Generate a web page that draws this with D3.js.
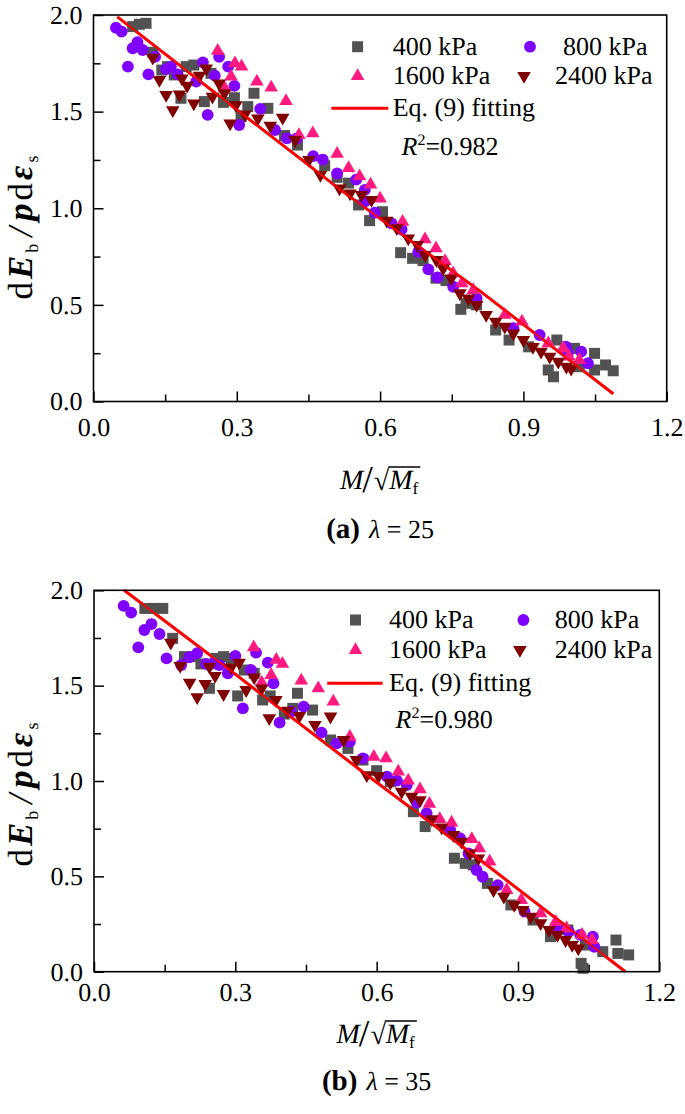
<!DOCTYPE html>
<html><head><meta charset="utf-8">
<script src="https://cdn.jsdelivr.net/npm/d3@7"></script>
</head><body style="margin:0;background:#fff">
<div id="fontwarm" style="position:absolute;left:0;top:1120px;font-family:'Liberation Serif';font-size:26px;color:#fff;white-space:nowrap">
<span>400 kPa 0.9 Eq. (9) fitting</span> <i>R M λ</i> <b>(a)</b> <b><i>E p ε</i></b>
</div>
<svg id="c" width="685" height="1114" text-rendering="geometricPrecision" style="position:absolute;left:0;top:0"></svg>
<script>
// ---------- data ----------
const xTicks = [0, 0.3, 0.6, 0.9, 1.2];
const xMinorTicks = [0.15, 0.45, 0.75, 1.05];
const yTicks = [0, 0.5, 1.0, 1.5, 2.0];
const yMinorTicks = [0.25, 0.75, 1.25, 1.75];
const seriesNames = ["400 kPa", "800 kPa", "1600 kPa", "2400 kPa"];
const fitLabel = "Eq. (9) fitting";
const r2Values = ["0.982", "0.980"];
const panelLetters = ["(a)", "(b)"];
const lambdaValues = ["25", "35"];

const a400 = [[0.082,1.94],[0.096,1.952],[0.110,1.957],[0.124,1.807],[0.143,1.715],[0.155,1.733],[0.169,1.69],[0.183,1.569],[0.194,1.733],[0.21,1.741],[0.232,1.552],[0.246,1.698],[0.272,1.548],[0.295,1.572],[0.309,1.474],[0.323,1.526],[0.336,1.595],[0.365,1.517],[0.4,1.376],[0.427,1.327],[0.484,1.22],[0.51,1.16],[0.534,1.13],[0.555,1.017],[0.578,0.936],[0.605,0.982],[0.643,0.77],[0.668,0.741],[0.69,0.729],[0.717,0.638],[0.738,0.626],[0.769,0.477],[0.78,0.508],[0.8,0.516],[0.802,0.5],[0.842,0.37],[0.87,0.318],[0.911,0.283],[0.952,0.163],[0.963,0.128],[0.97,0.318],[1.007,0.275],[1.017,0.18],[1.049,0.249],[1.049,0.163],[1.072,0.189],[1.088,0.159]];
const a800 = [[0.047,1.934],[0.059,1.914],[0.072,1.733],[0.082,1.828],[0.092,1.859],[0.103,1.819],[0.115,1.693],[0.129,1.784],[0.152,1.72],[0.162,1.733],[0.176,1.693],[0.215,1.655],[0.229,1.755],[0.239,1.483],[0.254,1.686],[0.263,1.784],[0.282,1.733],[0.295,1.633],[0.305,1.431],[0.349,1.514],[0.38,1.405],[0.405,1.362],[0.426,1.362],[0.46,1.27],[0.48,1.252],[0.51,1.18],[0.55,1.148],[0.568,1.095],[0.568,1.034],[0.589,0.977],[0.624,0.922],[0.645,0.891],[0.68,0.775],[0.701,0.684],[0.72,0.642],[0.753,0.594],[0.802,0.534],[0.879,0.379],[0.934,0.344],[0.989,0.284],[0.993,0.25],[1.021,0.258],[1.035,0.198]];
const a1600 = [[0.26,1.814],[0.275,1.621],[0.288,1.681],[0.296,1.75],[0.31,1.733],[0.342,1.655],[0.372,1.624],[0.403,1.555],[0.43,1.379],[0.459,1.388],[0.51,1.282],[0.534,1.208],[0.557,1.165],[0.58,1.122],[0.6,1.05],[0.647,0.930],[0.694,0.839],[0.717,0.793],[0.736,0.727],[0.753,0.663],[0.771,0.611],[0.795,0.577],[0.861,0.448],[0.897,0.413],[0.952,0.301],[0.983,0.275],[0.995,0.233],[1.017,0.215]];
const a2400 = [[0.124,1.779],[0.138,1.664],[0.152,1.586],[0.166,1.508],[0.18,1.589],[0.185,1.672],[0.196,1.634],[0.21,1.543],[0.222,1.686],[0.236,1.724],[0.249,1.577],[0.263,1.646],[0.274,1.595],[0.286,1.439],[0.298,1.534],[0.317,1.486],[0.344,1.465],[0.37,1.427],[0.396,1.469],[0.422,1.353],[0.451,1.25],[0.475,1.172],[0.515,1.103],[0.537,1.077],[0.561,1.069],[0.582,1.043],[0.614,0.936],[0.635,0.897],[0.659,0.844],[0.678,0.81],[0.694,0.758],[0.718,0.732],[0.732,0.689],[0.749,0.637],[0.767,0.56],[0.785,0.534],[0.802,0.5],[0.822,0.448],[0.842,0.413],[0.861,0.387],[0.879,0.352],[0.9,0.318],[0.92,0.283],[0.937,0.258],[0.955,0.232],[0.973,0.206],[0.99,0.18],[1.0,0.17]];
const fitA = [[0.05,1.99],[0.3,1.51],[0.52,1.09],[0.81,0.57],[1.088,0.04]];

const b400 = [[0.108,1.905],[0.127,1.905],[0.146,1.905],[0.167,1.748],[0.192,1.652],[0.209,1.652],[0.227,1.614],[0.245,1.486],[0.259,1.643],[0.275,1.652],[0.291,1.643],[0.305,1.446],[0.319,1.582],[0.34,1.565],[0.358,1.425],[0.374,1.446],[0.404,1.351],[0.422,1.381],[0.432,1.46],[0.464,1.372],[0.502,1.215],[0.539,1.171],[0.571,1.11],[0.6,1.054],[0.629,0.996],[0.678,0.839],[0.703,0.761],[0.765,0.595],[0.788,0.568],[0.805,0.56],[0.835,0.463],[0.885,0.35],[0.932,0.271],[0.969,0.184],[1.006,0.219],[1.034,0.044],[1.038,0.018],[1.043,0.14],[1.08,0.105],[1.108,0.166],[1.112,0.096],[1.135,0.088]];
const b800 = [[0.063,1.918],[0.079,1.883],[0.094,1.701],[0.107,1.792],[0.122,1.823],[0.139,1.771],[0.154,1.643],[0.185,1.608],[0.202,1.649],[0.219,1.67],[0.238,1.614],[0.252,1.617],[0.266,1.608],[0.284,1.565],[0.3,1.656],[0.316,1.381],[0.333,1.582],[0.344,1.673],[0.369,1.621],[0.381,1.512],[0.394,1.306],[0.418,1.364],[0.445,1.39],[0.483,1.254],[0.515,1.197],[0.543,1.206],[0.571,1.119],[0.622,1.023],[0.643,1.002],[0.664,0.979],[0.685,0.887],[0.706,0.831],[0.756,0.744],[0.777,0.7],[0.795,0.62],[0.812,0.533],[0.825,0.498],[0.857,0.454],[0.914,0.315],[0.983,0.236],[1.008,0.21],[1.032,0.193],[1.059,0.184],[1.062,0.131]];
const b1600 = [[0.339,1.701],[0.356,1.516],[0.376,1.556],[0.387,1.635],[0.4,1.614],[0.44,1.526],[0.476,1.486],[0.508,1.416],[0.543,1.232],[0.594,1.127],[0.62,1.119],[0.646,1.049],[0.667,1.002],[0.692,0.956],[0.712,0.88],[0.734,0.8],[0.759,0.782],[0.802,0.695],[0.818,0.647],[0.84,0.577],[0.876,0.428],[0.907,0.376],[0.948,0.306],[0.98,0.262],[1.003,0.227],[1.036,0.193],[1.057,0.166]];
const b2400 = [[0.163,1.725],[0.183,1.603],[0.203,1.516],[0.219,1.44],[0.236,1.509],[0.245,1.6],[0.257,1.551],[0.275,1.456],[0.291,1.596],[0.308,1.621],[0.323,1.477],[0.34,1.543],[0.356,1.486],[0.372,1.329],[0.386,1.425],[0.411,1.369],[0.436,1.341],[0.469,1.294],[0.502,1.338],[0.53,1.215],[0.557,1.11],[0.579,1.031],[0.604,1.026],[0.629,0.991],[0.653,0.944],[0.674,0.918],[0.692,0.9],[0.717,0.8],[0.738,0.757],[0.763,0.717],[0.78,0.682],[0.798,0.62],[0.816,0.594],[0.848,0.428],[0.87,0.393],[0.892,0.35],[0.91,0.324],[0.927,0.289],[0.948,0.254],[0.966,0.219],[0.984,0.193],[1.001,0.166],[1.015,0.14],[1.028,0.122]];
const fitB = [[0.064,2.0],[0.3,1.56],[0.565,1.058],[0.82,0.586],[1.128,0.0]];

// ---------- style ----------
const colors = ["#525252", "#8000ff", "#ff1a80", "#800000"];
const shapes = ["square", "circle", "up", "down"];
const fitColor = "#ff0000";
const FONT = "Liberation Serif";
const FS = 26;

const svg = d3.select("#c");
svg.append("rect").attr("width", 685).attr("height", 1114).attr("fill", "#fff");

function marker(sel, shape, color) {
  let p;
  if (shape === "square") p = d3.symbol(d3.symbolSquare, 121)();
  else if (shape === "circle") p = d3.symbol(d3.symbolCircle, 110)();
  else p = d3.symbol(d3.symbolTriangle, 80)();
  const m = sel.append("path").attr("d", p).attr("fill", color);
  if (shape === "down") m.attr("transform", "rotate(180)");
  return m;
}
function txt(g, x, y, size) {
  return g.append("text").attr("x", x).attr("y", y)
    .attr("font-family", FONT).attr("font-size", size || FS).attr("fill", "#000");
}
function span(t, s, o) {
  const e = t.append("tspan").text(s);
  Object.entries(o || {}).forEach(([k, v]) => e.attr(k, v));
  return e;
}

function panel(cfg) {
  const x = d3.scaleLinear().domain([0, 1.2]).range([cfg.x0, cfg.x1]);
  const y = d3.scaleLinear().domain([0, 2]).range([cfg.yBot, cfg.yTop]);
  const g = svg.append("g");
  const line = d3.line().x(d => x(d[0])).y(d => y(d[1]));

  g.append("path").datum(cfg.fit).attr("d", line)
    .attr("fill", "none").attr("stroke", fitColor).attr("stroke-width", 3);
  cfg.series.forEach((data, i) => {
    g.append("g").selectAll("g").data(data).join("g")
      .attr("transform", d => `translate(${x(d[0])},${y(d[1])})`)
      .each(function () { marker(d3.select(this), shapes[i], colors[i]); });
  });
  g.append("path").datum(cfg.fit).attr("d", line)
    .attr("fill", "none").attr("stroke", fitColor).attr("stroke-width", 2.2).attr("opacity", 0.85);

  const ax = g.append("g").attr("transform", `translate(0,${cfg.yBot})`)
    .call(d3.axisBottom(x).tickValues(xTicks).tickSize(-10).tickPadding(cfg.xPad).tickFormat(d3.format(".1f")));
  const axm = g.append("g").attr("transform", `translate(0,${cfg.yBot})`)
    .call(d3.axisBottom(x).tickValues(xMinorTicks).tickSize(-7).tickFormat(""));
  const ay = g.append("g").attr("transform", `translate(${cfg.x0},0)`)
    .call(d3.axisLeft(y).tickValues(yTicks).tickSize(-10).tickPadding(11).tickFormat(d3.format(".1f")));
  const aym = g.append("g").attr("transform", `translate(${cfg.x0},0)`)
    .call(d3.axisLeft(y).tickValues(yMinorTicks).tickSize(-7).tickFormat(""));
  [ax, axm, ay, aym].forEach(a => {
    a.select(".domain").remove();
    a.attr("font-family", FONT).attr("font-size", FS);
    a.selectAll("line").attr("stroke", "#000").attr("stroke-width", 1.5);
    a.selectAll("text").attr("fill", "#000").attr("font-family", FONT).attr("font-size", FS);
  });

  g.append("rect").attr("x", cfg.x0).attr("y", cfg.yTop)
    .attr("width", cfg.x1 - cfg.x0).attr("height", cfg.yBot - cfg.yTop)
    .attr("fill", "none").attr("stroke", "#000").attr("stroke-width", 1.6);

  const L = cfg.legend;
  const pos = [[L.c1m, L.r1, L.c1t], [L.c2m, L.r1, L.c2t], [L.c1m, L.r2, L.c1t], [L.c2m2, L.r2, L.c2t2]];
  seriesNames.forEach((name, i) => {
    const [mx, my, tx] = pos[i];
    const mg = g.append("g").attr("transform", `translate(${mx},${my})`);
    marker(mg, shapes[i], colors[i]);
    txt(g, tx, my + 8).text(name);
  });
  g.append("line").attr("x1", L.lx0).attr("x2", L.lx1).attr("y1", L.r3).attr("y2", L.r3)
    .attr("stroke", fitColor).attr("stroke-width", 3);
  txt(g, L.c1t, L.r3 + 8).text(fitLabel);
  const r2 = txt(g, L.r2x, L.r4 + 8);
  span(r2, "R", {"font-style": "italic"});
  span(r2, "2", {"font-size": 16, dy: -10});
  span(r2, "=" + cfg.r2, {dy: 10});

  const yt = g.append("text").attr("transform", `translate(${cfg.ytX},${cfg.ytY}) rotate(-90)`)
    .attr("font-family", FONT).attr("font-size", 35).attr("fill", "#000").attr("text-anchor", "middle")
    .attr("letter-spacing", 3);
  span(yt, "d");
  span(yt, "E", {"font-style": "italic", "font-weight": "bold"});
  span(yt, "b", {"font-size": 18, dy: 6});
  span(yt, "/", {"font-style": "italic", dy: -6, dx: 4});
  span(yt, "p", {"font-style": "italic", "font-weight": "bold", dx: 3});
  span(yt, "d");
  span(yt, "ε", {"font-style": "italic", "font-weight": "bold"});
  span(yt, "s", {"font-size": 18, dy: 6});

  const xc = (cfg.x0 + cfg.x1) / 2;
  const wM = 0.833 * 28, wSl = 0.278 * 38, wRt = 0.549 * 28, wF = 0.278 * 17;
  const total = wM + wSl + wRt + wM + wF + 3;
  let cx = xc - total / 2;
  const tg = g.append("g");
  txt(tg, cx, cfg.xtY, 28).attr("font-style", "italic").text("M"); cx += wM;
  txt(tg, cx - 1, cfg.xtY + 3, 38).text("/"); cx += wSl;
  txt(tg, cx, cfg.xtY + 1, 28).text("√"); cx += wRt;
  const mStart = cx;
  txt(tg, cx, cfg.xtY, 28).attr("font-style", "italic").text("M"); cx += wM;
  txt(tg, cx, cfg.xtY + 5, 17).text("f"); cx += wF + 3;
  tg.append("line").attr("x1", mStart - 1).attr("x2", cx)
    .attr("y1", cfg.xtY - 22).attr("y2", cfg.xtY - 22).attr("stroke", "#000").attr("stroke-width", 1.4);

  const cap = txt(g, xc, cfg.capY, FS).attr("text-anchor", "middle");
  span(cap, cfg.letter, {"font-weight": "bold", "font-size": 29});
  span(cap, "λ", {"font-style": "italic", dx: 9});
  span(cap, " = " + cfg.lambda);
}

panel({
  x0: 93.5, x1: 666.7, yTop: 15, yBot: 401.5, xPad: 16, fit: fitA,
  series: [a400, a800, a1600, a2400], r2: r2Values[0], letter: panelLetters[0], lambda: lambdaValues[0],
  ytX: 32, ytY: 226, xtY: 489, capY: 538,
  legend: {c1m: 357.6, c1t: 392.7, c2m: 530, c2t: 563, c2m2: 524, c2t2: 555, r1: 46.7, r2: 76, r3: 108.3, r4: 146.7, lx0: 331.3, lx1: 388.3, r2x: 401.5}
});
panel({
  x0: 94, x1: 659.3, yTop: 590.3, yBot: 971.7, xPad: 11, fit: fitB,
  series: [b400, b800, b1600, b2400], r2: r2Values[1], letter: panelLetters[1], lambda: lambdaValues[1],
  ytX: 32, ytY: 793, xtY: 1043, capY: 1090,
  legend: {c1m: 355.5, c1t: 389, c2m: 523.4, c2t: 554.7, c2m2: 519.9, c2t2: 554.7, r1: 620, r2: 650, r3: 683.3, r4: 720, lx0: 327.2, lx1: 382.6, r2x: 395.6}
});
</script></body></html>
